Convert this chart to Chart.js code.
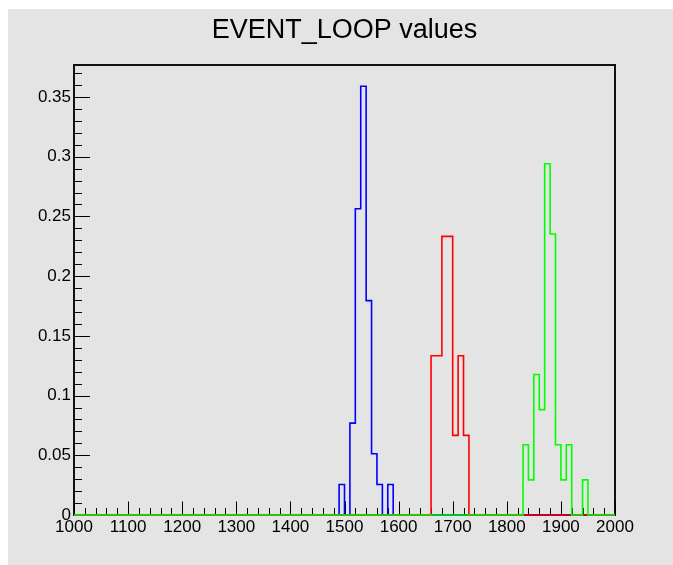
<!DOCTYPE html>
<html>
<head>
<meta charset="utf-8">
<script src="https://cdn.jsdelivr.net/npm/chart.js@4/dist/chart.umd.min.js"></script>
<style>
  html, body { margin: 0; padding: 0; background: #ffffff; }
  #panel { position: absolute; left: 8px; top: 9px; width: 665px; height: 556px; background: #e4e4e4; }
  #c { display: block; }
</style>
</head>
<body>
<div id="panel"><canvas id="c" width="665" height="556"></canvas></div>
<script>
// ---- data (bin contents, bins are 10 units wide on a 1000..2000 axis) ----
const titleText = 'EVENT_LOOP values';
const seriesNames = ['blue', 'red', 'green'];
const blueBinStarts = [1490, 1500, 1510, 1520, 1530, 1540, 1550, 1560, 1570, 1580];
const blueValues    = [0.0256, 0, 0.0769, 0.2564, 0.359, 0.1795, 0.0513, 0.0256, 0, 0.0256];
const redBinStarts  = [1660, 1670, 1680, 1690, 1700, 1710, 1720];
const redValues     = [0.1333, 0.1333, 0.2333, 0.2333, 0.0667, 0.1333, 0.0667];
const greenBinStarts = [1830, 1840, 1850, 1860, 1870, 1880, 1890, 1900, 1910, 1920, 1930, 1940];
const greenValues    = [0.0588, 0.0294, 0.1176, 0.0882, 0.2941, 0.2353, 0.0588, 0.0294, 0.0588, 0, 0, 0.0294];
const binWidth = 10;
const xRange = [1000, 2000];
const yRange = [0, 0.3768];
const xTickValues = [1000, 1100, 1200, 1300, 1400, 1500, 1600, 1700, 1800, 1900, 2000];
const xTickLabels = ['1000', '1100', '1200', '1300', '1400', '1500', '1600', '1700', '1800', '1900', '2000'];
const yTickValues = [0, 0.05, 0.1, 0.15, 0.2, 0.25, 0.3, 0.35];
const yTickLabels = ['0', '0.05', '0.1', '0.15', '0.2', '0.25', '0.3', '0.35'];
const xMinorStep = 20;
const yMinorStep = 0.01;

// build step outline points (value holds from a point to the next one)
function histPoints(starts, values) {
  const pts = [{ x: xRange[0], y: 0 }];
  starts.forEach((s, i) => pts.push({ x: s, y: values[i] }));
  pts.push({ x: starts[starts.length - 1] + binWidth, y: 0 });
  pts.push({ x: xRange[1], y: 0 });
  return pts;
}

const FONT = "'Liberation Sans', Arial, Helvetica, sans-serif";

const rootAxes = {
  id: 'rootAxes',
  beforeDatasetsDraw(chart) {
    const { ctx, chartArea: a, scales } = chart;
    const x = scales.x, y = scales.y;
    ctx.save();
    // frame
    ctx.strokeStyle = '#111';
    ctx.lineWidth = 2;
    ctx.strokeRect(a.left, a.top, a.right - a.left, a.bottom - a.top);
    // x ticks (pointing up into the frame)
    ctx.lineWidth = 1;
    ctx.strokeStyle = '#000';
    ctx.beginPath();
    const nx = Math.round((xRange[1] - xRange[0]) / xMinorStep);
    for (let i = 0; i <= nx; i++) {
      const v = xRange[0] + i * xMinorStep;
      const px = Math.round(x.getPixelForValue(v)) + 0.5;
      const major = xTickValues.includes(v);
      const len = major ? 13.5 : 7;
      ctx.moveTo(px, a.bottom);
      ctx.lineTo(px, a.bottom - len);
    }
    // y ticks (pointing right into the frame)
    const ny = Math.floor(yRange[1] / yMinorStep + 1e-6);
    for (let i = 0; i <= ny; i++) {
      const v = i * yMinorStep;
      const py = Math.round(y.getPixelForValue(v)) + 0.5;
      const major = (i % 5) === 0;
      const len = major ? 16 : 8;
      ctx.moveTo(a.left, py);
      ctx.lineTo(a.left + len, py);
    }
    ctx.stroke();
    ctx.restore();
  }
};

const ds = (label, starts, values, color, order) => ({
  label,
  data: histPoints(starts, values),
  borderColor: color,
  backgroundColor: color,
  borderWidth: 1.6,
  stepped: 'before',
  pointRadius: 0,
  fill: false,
  tension: 0,
  clip: 4,
  order
});

new Chart(document.getElementById('c'), {
  type: 'line',
  data: {
    datasets: [
      ds(seriesNames[0], blueBinStarts, blueValues, '#0000ff', 2),
      ds(seriesNames[1], redBinStarts, redValues, '#ff0000', 1),
      ds(seriesNames[2], greenBinStarts, greenValues, '#00ff00', 0)
    ]
  },
  options: {
    responsive: false,
    animation: false,
    devicePixelRatio: 1,
    layout: { padding: { left: 0, right: 58, top: 0, bottom: 0 } },
    plugins: {
      legend: { display: false },
      tooltip: { enabled: false },
      title: {
        display: true,
        text: titleText,
        fullSize: false,
        color: '#000',
        font: { family: FONT, size: 27, weight: 'normal' },
        padding: { top: 5, bottom: 18.6 }
      }
    },
    scales: {
      x: {
        type: 'linear',
        min: xRange[0],
        max: xRange[1],
        grid: { display: false, drawTicks: false },
        border: { display: false },
        afterBuildTicks: (s) => { s.ticks = xTickValues.map(v => ({ value: v })); },
        afterFit: (s) => { s.height = 50; },
        ticks: {
          color: '#000',
          padding: 2,
          maxRotation: 0,
          autoSkip: false,
          font: { family: FONT, size: 17 },
          callback: (v) => { const i = xTickValues.indexOf(v); return i >= 0 ? xTickLabels[i] : ''; }
        }
      },
      y: {
        type: 'linear',
        min: yRange[0],
        max: yRange[1],
        grid: { display: false, drawTicks: false },
        border: { display: false },
        afterBuildTicks: (s) => { s.ticks = yTickValues.map(v => ({ value: v })); },
        afterFit: (s) => { s.width = 66; },
        ticks: {
          color: '#000',
          padding: 3,
          autoSkip: false,
          includeBounds: false,
          font: { family: FONT, size: 17 },
          callback: (v) => { const i = yTickValues.indexOf(v); return i >= 0 ? yTickLabels[i] : ''; }
        }
      }
    }
  },
  plugins: [rootAxes]
});
</script>
</body>
</html>
